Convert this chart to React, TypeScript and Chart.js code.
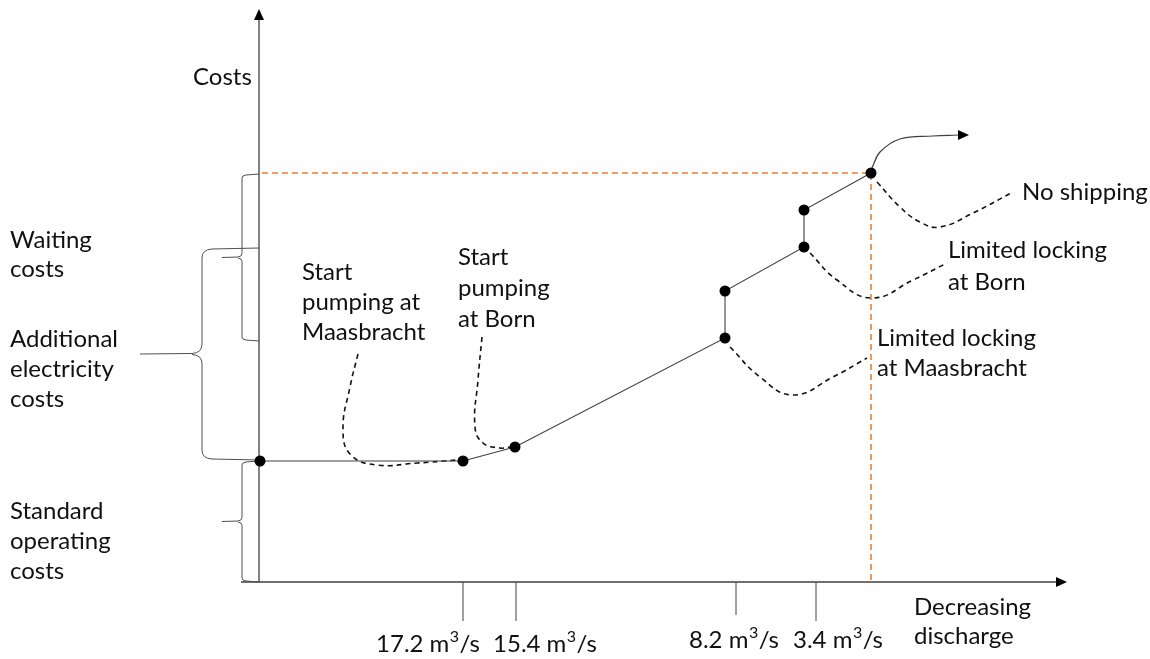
import React, { useEffect, useRef } from "react";
import { Chart, registerables } from "chart.js";

Chart.register(...registerables);

// Schematic units: x = position along the "decreasing discharge" axis, y = costs.
const costCurveX = [1, 204, 256, 466, 466, 545, 545, 612];
const costCurveY = [121, 121, 135, 244, 291, 335, 372, 409];

const dischargeTickX = [204, 257, 477, 557];
const dischargeTickLabels = ["17.2 m³/s", "15.4 m³/s", "8.2 m³/s", "3.4 m³/s"];

const noShippingX = 612;
const noShippingCost = 409;

// cost bands shown with braces: [bottom, top]
const braceStandard = [0, 121];
const braceAdditional = [122, 334];
const braceWaiting = [241, 408];

// annotation leader curves
const leaderMaasbrachtX = [99, 91, 84, 92, 118, 158, 198];
const leaderMaasbrachtY = [228, 195, 152, 127, 117, 119, 122];
const leaderBornX = [223, 219, 216, 224, 241, 251];
const leaderBornY = [245, 202, 155, 139, 134, 135];
const leaderLockMaasX = [471, 501, 534, 574, 608];
const leaderLockMaasY = [235, 205, 187, 205, 224];
const leaderLockBornX = [551, 578, 613, 654, 688];
const leaderLockBornY = [329, 302, 284, 302, 319];
const leaderNoShipX = [618, 641, 661, 681, 714, 754];
const leaderNoShipY = [400, 375, 360, 355, 369, 390];

// beyond "no shipping" arrow
const beyondX = [613, 621, 641, 674, 699];
const beyondY = [414, 430, 443, 446, 447];

const FONT = "Lato, 'Open Sans', sans-serif";
const FONT_SIZE = 24;
const TEXT_COLOR = "#111111";
const LINE_COLOR = "#404040";
const ORANGE = "#ED7D31";

const zip = (xs: number[], ys: number[]) => xs.map((x, i) => ({ x, y: ys[i] }));

// text blocks: lines, left x (px), first line centre y (px), line spacing
const textBlocks: { lines: string[]; x: number; y: number; dy: number }[] = [
  { lines: ["Costs"], x: 193, y: 77, dy: 30 },
  { lines: ["Waiting", "costs"], x: 10, y: 240, dy: 29 },
  { lines: ["Additional", "electricity", "costs"], x: 10, y: 339, dy: 30 },
  { lines: ["Standard", "operating", "costs"], x: 10, y: 511, dy: 30 },
  { lines: ["Start", "pumping at", "Maasbracht"], x: 302, y: 272, dy: 30 },
  { lines: ["Start", "pumping", "at Born"], x: 458, y: 257, dy: 31 },
  { lines: ["No shipping"], x: 1022, y: 192, dy: 30 },
  { lines: ["Limited locking", "at Born"], x: 948, y: 250, dy: 32 },
  { lines: ["Limited locking", "at Maasbracht"], x: 877, y: 338, dy: 30 },
  { lines: ["Decreasing", "discharge"], x: 914, y: 607, dy: 29 },
];
const tickLabelPos = [
  { x: 428, y: 644 },
  { x: 545, y: 644 },
  { x: 734, y: 640 },
  { x: 838, y: 640 },
];

export default function App() {
  const ref = useRef<HTMLCanvasElement | null>(null);

  useEffect(() => {
    const canvas = ref.current;
    if (!canvas) return;

    const overlay = {
      id: "schematic",
      beforeDatasetsDraw(chart: any) {
        const ctx = chart.ctx as CanvasRenderingContext2D;
        const xs = chart.scales.x;
        const ys = chart.scales.y;
        const px = (v: number) => xs.getPixelForValue(v);
        const py = (v: number) => ys.getPixelForValue(v);
        ctx.save();

        // axes
        const ox = px(0);
        const oy = py(0);
        ctx.strokeStyle = LINE_COLOR;
        ctx.fillStyle = "#000";
        ctx.lineWidth = 1.3;
        ctx.beginPath();
        ctx.moveTo(ox, oy);
        ctx.lineTo(ox, 20);
        ctx.moveTo(ox - 18, oy);
        ctx.lineTo(1056, oy);
        ctx.stroke();
        // arrowheads
        ctx.beginPath();
        ctx.moveTo(ox, 9);
        ctx.lineTo(ox - 5, 20);
        ctx.lineTo(ox + 5, 20);
        ctx.closePath();
        ctx.fill();
        ctx.beginPath();
        ctx.moveTo(1067, oy);
        ctx.lineTo(1056, oy - 5);
        ctx.lineTo(1056, oy + 5);
        ctx.closePath();
        ctx.fill();

        // ticks
        ctx.lineWidth = 1;
        dischargeTickX.forEach((v, i) => {
          ctx.beginPath();
          ctx.moveTo(px(v), oy);
          ctx.lineTo(px(v), oy + (i === 2 ? 33 : 39));
          ctx.stroke();
        });

        // braces
        const brace = (band: number[], xBack: number, xTip: number, r: number) => {
          const yTop = py(band[1]);
          const yBot = py(band[0]);
          const yMid = (yTop + yBot) / 2;
          ctx.beginPath();
          ctx.moveTo(ox, yTop);
          ctx.lineTo(xBack + r, yTop + 1);
          ctx.quadraticCurveTo(xBack, yTop + 1.5, xBack, yTop + r);
          ctx.lineTo(xBack, yMid - r);
          ctx.quadraticCurveTo(xBack, yMid - 1, xBack - r, yMid - 0.5);
          ctx.lineTo(xTip, yMid);
          ctx.moveTo(xBack - r, yMid + 0.5);
          ctx.quadraticCurveTo(xBack, yMid + 1, xBack, yMid + r);
          ctx.lineTo(xBack, yBot - r);
          ctx.quadraticCurveTo(xBack, yBot - 1.5, xBack + r, yBot - 1);
          ctx.lineTo(ox, yBot);
          ctx.stroke();
        };
        ctx.strokeStyle = "#505050";
        ctx.lineWidth = 1;
        brace(braceWaiting, 242, 222, 4);
        brace(braceStandard, 242, 222, 4);
        brace(braceAdditional, 202, 140, 10);

        // arrowhead of "beyond no shipping" curve
        const ax = px(beyondX[beyondX.length - 1]);
        const ay = py(beyondY[beyondY.length - 1]);
        ctx.fillStyle = "#000";
        ctx.beginPath();
        ctx.moveTo(ax + 11, ay);
        ctx.lineTo(ax, ay - 5);
        ctx.lineTo(ax, ay + 5);
        ctx.closePath();
        ctx.fill();

        // texts
        ctx.fillStyle = TEXT_COLOR;
        ctx.font = `${FONT_SIZE}px ${FONT}`;
        ctx.textBaseline = "middle";
        ctx.textAlign = "left";
        textBlocks.forEach((b) => {
          b.lines.forEach((l, i) => ctx.fillText(l, b.x, b.y + i * b.dy));
        });

        // tick labels with a real superscript
        const baseFont = `${FONT_SIZE}px ${FONT}`;
        const supFont = `${Math.round(FONT_SIZE * 0.66)}px ${FONT}`;
        dischargeTickLabels.forEach((label, i) => {
          const parts = label.split("³");
          const pre = parts[0];
          const post = parts[1] ?? "";
          ctx.font = baseFont;
          const wPre = ctx.measureText(pre).width;
          const wPost = ctx.measureText(post).width;
          ctx.font = supFont;
          const wSup = parts.length > 1 ? ctx.measureText("3").width : 0;
          const total = wPre + wSup + wPost + 1;
          let x = tickLabelPos[i].x - total / 2;
          const y = tickLabelPos[i].y;
          ctx.font = baseFont;
          ctx.fillText(pre, x, y);
          x += wPre;
          if (parts.length > 1) {
            ctx.font = supFont;
            ctx.fillText("3", x + 0.5, y - FONT_SIZE * 0.3);
            x += wSup + 1;
          }
          ctx.font = baseFont;
          ctx.fillText(post, x, y);
        });
        ctx.restore();
      },
    };

    const dashed = (xs: number[], ys: number[]) => ({
      data: zip(xs, ys),
      showLine: true,
      borderColor: "#111",
      borderWidth: 1.6,
      borderDash: [5, 4],
      pointRadius: 0,
      tension: 0.45,
      fill: false,
      clip: false as any,
    });

    const chart = new Chart(canvas, {
      type: "scatter",
      data: {
        datasets: [
          {
            data: zip(costCurveX, costCurveY),
            showLine: true,
            borderColor: LINE_COLOR,
            borderWidth: 1.1,
            pointRadius: 5.5,
            pointBackgroundColor: "#000",
            pointBorderColor: "#000",
            pointBorderWidth: 0,
            tension: 0,
            clip: false as any,
          },
          {
            data: [
              { x: 3, y: noShippingCost },
              { x: noShippingX, y: noShippingCost },
              { x: noShippingX, y: 0 },
            ],
            showLine: true,
            borderColor: ORANGE,
            borderWidth: 1.6,
            borderDash: [6, 4],
            pointRadius: 0,
            tension: 0,
            clip: false as any,
          },
          dashed(leaderMaasbrachtX, leaderMaasbrachtY),
          dashed(leaderBornX, leaderBornY),
          dashed(leaderLockMaasX, leaderLockMaasY),
          dashed(leaderLockBornX, leaderLockBornY),
          dashed(leaderNoShipX, leaderNoShipY),
          {
            data: zip(beyondX, beyondY),
            showLine: true,
            borderColor: LINE_COLOR,
            borderWidth: 1.2,
            pointRadius: 0,
            tension: 0.4,
            clip: false as any,
          },
        ],
      },
      options: {
        responsive: false,
        maintainAspectRatio: false,
        animation: false,
        layout: { padding: 0, autoPadding: false },
        events: [],
        plugins: { legend: { display: false }, tooltip: { enabled: false } },
        scales: {
          x: { type: "linear", min: -259, max: 891, display: false },
          y: { type: "linear", min: -77, max: 582, display: false },
        },
      },
      plugins: [overlay],
    });
    return () => chart.destroy();
  }, []);

  return (
    <div style={{ position: "absolute", left: 0, top: 0, width: 1150, height: 659, background: "#fff" }}>
      <canvas ref={ref} width={1150} height={659} style={{ display: "block" }} />
    </div>
  );
}
